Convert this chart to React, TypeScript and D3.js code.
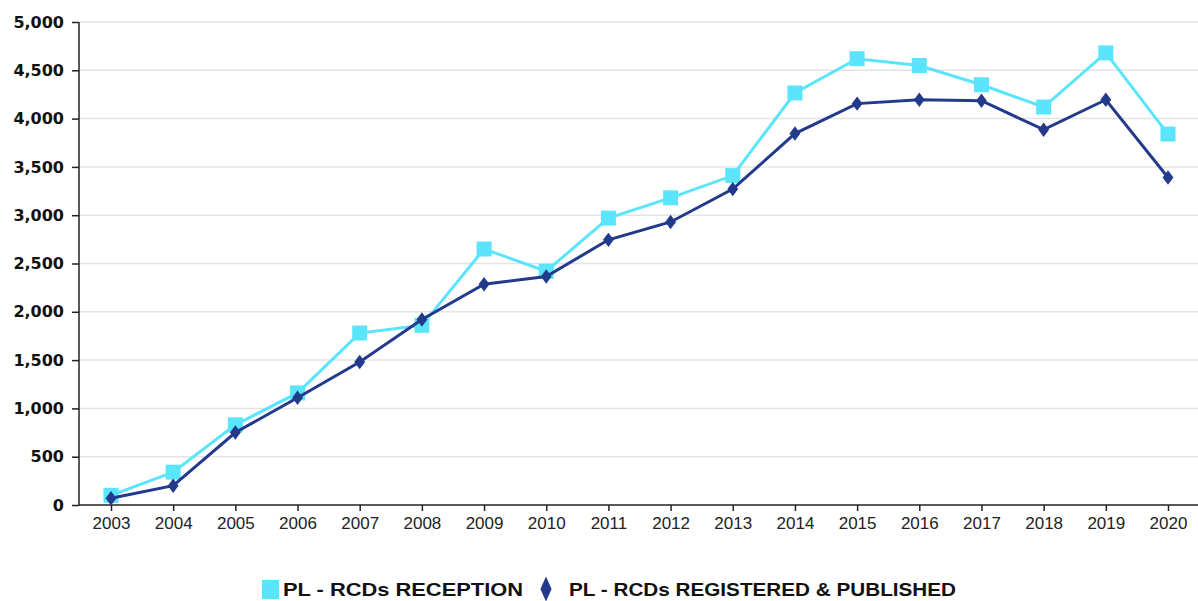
import React, { useRef, useEffect } from 'react'
import * as d3 from "d3";

const years = ["2003", "2004", "2005", "2006", "2007", "2008", "2009", "2010", "2011", "2012", "2013", "2014", "2015", "2016", "2017", "2018", "2019", "2020"]
const reception = [100, 340, 830, 1160, 1780, 1860, 2650, 2420, 2970, 3180, 3410, 4265, 4620, 4550, 4350, 4120, 4680, 3840]
const published = [70, 200, 750, 1110, 1480, 1920, 2285, 2365, 2745, 2930, 3270, 3845, 4155, 4195, 4185, 3885, 4195, 3390]
const yTicks = [0, 500, 1000, 1500, 2000, 2500, 3000, 3500, 4000, 4500, 5000]
const seriesNames = ["PL - RCDs RECEPTION", "PL - RCDs REGISTERED & PUBLISHED"]

const W = 1198
const H = 601
const margin = { top: 22, right: 0, bottom: 96, left: 79 }

export default function App() {
  const ref = useRef<SVGSVGElement | null>(null)

  useEffect(() => {
    if (!ref.current) return
    const svg = d3.select(ref.current)
    svg.selectAll("*").remove()

    const innerW = W - margin.left - margin.right
    const innerH = H - margin.top - margin.bottom

    const x = d3.scalePoint<string>()
      .domain(years)
      .range([111 - margin.left, 1168 - margin.left])
    const y = d3.scaleLinear().domain([0, 5000]).range([innerH, 0])

    const g = svg.append("g").attr("transform", `translate(${margin.left},${margin.top})`)

    // grid
    g.selectAll("line.grid").data(yTicks.slice(1)).join("line")
      .attr("x1", 0).attr("x2", innerW)
      .attr("y1", d => y(d)).attr("y2", d => y(d))
      .attr("stroke", "#e4e4e4").attr("stroke-width", 1.5)

    // y axis
    const yAxis = g.append("g")
      .call(d3.axisLeft(y).tickValues(yTicks).tickFormat(d3.format(",")).tickSize(7).tickPadding(8))
    yAxis.select(".domain").attr("stroke", "#222").attr("stroke-width", 1.5).attr("d", `M0,${innerH}V0`)
    yAxis.selectAll(".tick line").attr("stroke", "#222").attr("stroke-width", 1.5)
    yAxis.selectAll("text")
      .attr("font-family", "DejaVu Sans, Verdana, sans-serif")
      .attr("font-size", 16).attr("font-weight", "bold").attr("fill", "#111")

    // x axis
    const xAxis = g.append("g").attr("transform", `translate(0,${innerH})`)
      .call(d3.axisBottom(x).tickSize(6).tickPadding(6))
    xAxis.select(".domain").attr("stroke", "#222").attr("stroke-width", 1.5).attr("d", `M0,0H${innerW}`)
    xAxis.selectAll(".tick line").attr("stroke", "#222").attr("stroke-width", 1.5)
    xAxis.selectAll("text")
      .attr("font-family", "Liberation Sans, Arial, sans-serif")
      .attr("font-size", 17).attr("fill", "#222")

    const cyan = "#5ae5fd"
    const navy = "#233a8c"

    const line = d3.line<number>()
      .x((_, i) => x(years[i]) as number)
      .y(d => y(d))

    g.append("path").attr("d", line(reception))
      .attr("fill", "none").attr("stroke", cyan).attr("stroke-width", 3)
    g.selectAll("rect.rec").data(reception).join("rect")
      .attr("x", (_, i) => (x(years[i]) as number) - 7.5)
      .attr("y", d => y(d) - 7.5)
      .attr("width", 15).attr("height", 15).attr("fill", cyan)

    g.append("path").attr("d", line(published))
      .attr("fill", "none").attr("stroke", navy).attr("stroke-width", 3)
    const diamond = d3.symbol().type(d3.symbolDiamond).size(60)
    g.selectAll("path.pub").data(published).join("path")
      .attr("d", diamond() as string)
      .attr("transform", (d, i) => `translate(${x(years[i])},${y(d)}) scale(1.3,1)`)
      .attr("fill", navy)

    // legend
    const lg = svg.append("g").attr("font-family", "Liberation Sans, Arial, sans-serif")
      .attr("font-size", 19).attr("font-weight", "bold").attr("fill", "#111")
    lg.append("rect").attr("x", 262).attr("y", 580).attr("width", 17).attr("height", 19).attr("fill", cyan)
    lg.append("text").attr("x", 283).attr("y", 596).text(seriesNames[0])
      .attr("textLength", 240).attr("lengthAdjust", "spacingAndGlyphs")
    lg.append("path").attr("d", d3.symbol().type(d3.symbolDiamond).size(150)() as string)
      .attr("transform", "translate(546,589) scale(0.85,1.1)").attr("fill", navy)
    lg.append("text").attr("x", 569).attr("y", 596).text(seriesNames[1])
      .attr("textLength", 387).attr("lengthAdjust", "spacingAndGlyphs")
  }, [])

  return (
    <svg ref={ref} width={W} height={H} style={{ position: "absolute", left: 0, top: 0 }} />
  )
}
